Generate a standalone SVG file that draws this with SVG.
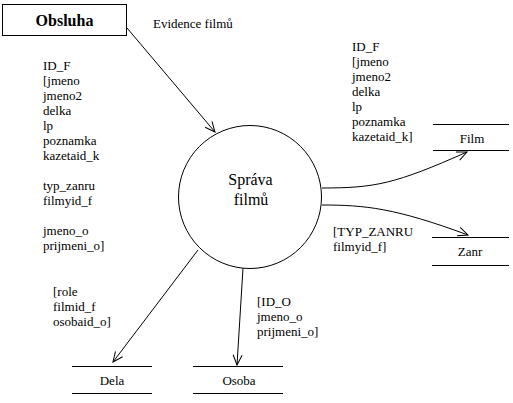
<svg xmlns="http://www.w3.org/2000/svg" width="513" height="403" viewBox="0 0 513 403" font-family="'Liberation Serif', 'Times New Roman', 'DejaVu Serif', serif">
<style>
text{font-family:'Liberation Serif','Times New Roman','DejaVu Serif',serif;font-size:13px;fill:#000}
.b{font-weight:bold;font-size:16px}
.c{font-size:16px}
.ln{stroke:#000;stroke-width:1;fill:none}
</style>
<defs>
<marker id="ah" markerUnits="userSpaceOnUse" markerWidth="14" markerHeight="14" refX="0" refY="0" viewBox="-12 -7 14 14" orient="auto" overflow="visible">
<path d="M-10,-4.5 L0,0 L-10,4.5" fill="none" stroke="#000" stroke-width="1"/>
</marker>
</defs>
<rect width="513" height="403" fill="#fff"/>
<g id="connectors">
<line class="ln" x1="127" y1="28" x2="215" y2="132" marker-end="url(#ah)"/>
<path class="ln" d="M322,188 C375,188 395,184 467,152" marker-end="url(#ah)"/>
<path class="ln" d="M322,205 C365,205 395,208 468,235" marker-end="url(#ah)"/>
<line class="ln" x1="198" y1="250" x2="113" y2="362" marker-end="url(#ah)"/>
<line class="ln" x1="243" y1="268" x2="237" y2="365" marker-end="url(#ah)"/>
</g>
<g id="obsluha">
<rect x="2.5" y="4.5" width="124" height="31" fill="#fff" stroke="#000"/>
<text class="b" x="64.5" y="26" text-anchor="middle">Obsluha</text>
</g>
<g id="sprava">
<circle cx="250" cy="197" r="71.5" fill="#fff" stroke="#000"/>
<text class="c" x="250.5" y="185" text-anchor="middle">Správa</text>
<text class="c" x="251" y="205" text-anchor="middle">filmů</text>
</g>
<g id="film">
<line class="ln" x1="433" y1="124.5" x2="509" y2="124.5"/>
<line class="ln" x1="433" y1="150.5" x2="509" y2="150.5"/>
<text x="472" y="143" text-anchor="middle">Film</text>
</g>
<g id="zanr">
<line class="ln" x1="432" y1="237.5" x2="509" y2="237.5"/>
<line class="ln" x1="432" y1="265.5" x2="509" y2="265.5"/>
<text x="470" y="256" text-anchor="middle">Zanr</text>
</g>
<g id="dela">
<line class="ln" x1="72" y1="366.5" x2="152" y2="366.5"/>
<line class="ln" x1="72" y1="393.5" x2="152" y2="393.5"/>
<text x="112" y="385" text-anchor="middle">Dela</text>
</g>
<g id="osoba">
<line class="ln" x1="193" y1="366.5" x2="283" y2="366.5"/>
<line class="ln" x1="193" y1="393.5" x2="283" y2="393.5"/>
<text x="239" y="385" text-anchor="middle">Osoba</text>
</g>
<g id="labels">
<text x="153" y="28">Evidence filmů</text>
<text x="43" y="70">ID_F</text>
<text x="43" y="85">[jmeno</text>
<text x="43" y="100">jmeno2</text>
<text x="43" y="115">delka</text>
<text x="43" y="130">lp</text>
<text x="43" y="145">poznamka</text>
<text x="43" y="160">kazetaid_k</text>
<text x="43" y="190">typ_zanru</text>
<text x="43" y="205">filmyid_f</text>
<text x="43" y="235">jmeno_o</text>
<text x="43" y="250">prijmeni_o]</text>
<text x="352" y="51">ID_F</text>
<text x="352" y="66">[jmeno</text>
<text x="352" y="81">jmeno2</text>
<text x="352" y="96">delka</text>
<text x="352" y="111">lp</text>
<text x="352" y="126">poznamka</text>
<text x="352" y="141">kazetaid_k]</text>
<text x="333" y="236">[TYP_ZANRU</text>
<text x="333" y="251">filmyid_f]</text>
<text x="53" y="296">[role</text>
<text x="53" y="311">filmid_f</text>
<text x="53" y="326">osobaid_o]</text>
<text x="257" y="306">[ID_O</text>
<text x="257" y="321">jmeno_o</text>
<text x="257" y="336">prijmeni_o]</text>
</g>
</svg>
